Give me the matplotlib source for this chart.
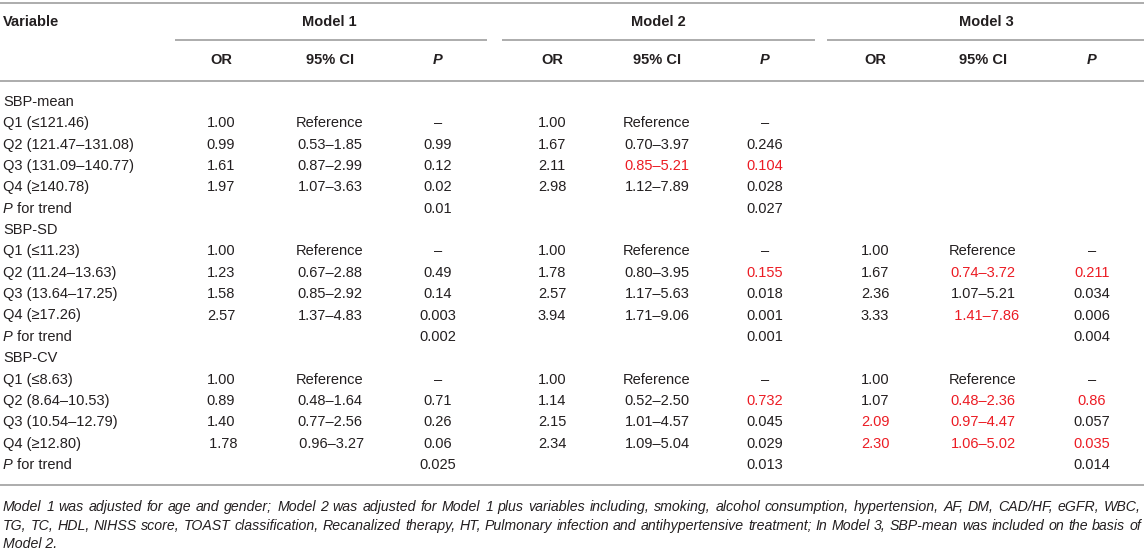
import matplotlib
matplotlib.use('Agg')
import matplotlib.pyplot as plt
from matplotlib import font_manager as fm

plt.rcParams['font.family'] = ['Liberation Sans', 'DejaVu Sans']

# table content
row_labels = ["SBP-mean", "Q1 (≤121.46)", "Q2 (121.47–131.08)", "Q3 (131.09–140.77)",
              "Q4 (≥140.78)", "P for trend",
              "SBP-SD", "Q1 (≤11.23)", "Q2 (11.24–13.63)", "Q3 (13.64–17.25)",
              "Q4 (≥17.26)", "P for trend",
              "SBP-CV", "Q1 (≤8.63)", "Q2 (8.64–10.53)", "Q3 (10.54–12.79)",
              "Q4 (≥12.80)", "P for trend"]

models = ["Model 1", "Model 2", "Model 3"]
sub_headers = ["OR", "95% CI", "P"]

m1_or = ["", "1.00", "0.99", "1.61", "1.97", "", "", "1.00", "1.23", "1.58", "2.57", "",
         "", "1.00", "0.89", "1.40", " 1.78", ""]
m1_ci = ["", "Reference", "0.53–1.85", "0.87–2.99", "1.07–3.63", "", "", "Reference",
         "0.67–2.88", "0.85–2.92", "1.37–4.83", "", "", "Reference", "0.48–1.64",
         "0.77–2.56", " 0.96–3.27", ""]
m1_p = ["", "–", "0.99", "0.12", "0.02", "0.01", "", "–", "0.49", "0.14", "0.003", "0.002",
        "", "–", "0.71", "0.26", "0.06", "0.025"]

m2_or = ["", "1.00", "1.67", "2.11", "2.98", "", "", "1.00", "1.78", "2.57", "3.94", "",
         "", "1.00", "1.14", "2.15", "2.34", ""]
m2_ci = ["", "Reference", "0.70–3.97", "0.85–5.21", "1.12–7.89", "", "", "Reference",
         "0.80–3.95", "1.17–5.63", "1.71–9.06", "", "", "Reference", "0.52–2.50",
         "1.01–4.57", "1.09–5.04", ""]
m2_p = ["", "–", "0.246", "0.104", "0.028", "0.027", "", "–", "0.155", "0.018", "0.001",
        "0.001", "", "–", "0.732", "0.045", "0.029", "0.013"]

m3_or = ["", "", "", "", "", "", "", "1.00", "1.67", "2.36", "3.33", "",
         "", "1.00", "1.07", "2.09", "2.30", ""]
m3_ci = ["", "", "", "", "", "", "", "Reference", "0.74–3.72", "1.07–5.21", "  1.41–7.86", "",
         "", "Reference", "0.48–2.36", "0.97–4.47", "1.06–5.02", ""]
m3_p = ["", "", "", "", "", "", "", "–", "0.211", "0.034", "0.006", "0.004",
        "", "–", "0.86", "0.057", "0.035", "0.014"]

# row indices printed in red, per model and column
red_cells = {
    (1, 1): [3], (1, 2): [3, 8, 14],
    (2, 0): [15, 16], (2, 1): [8, 10, 14, 15, 16], (2, 2): [8, 14, 16],
}

footnote = [
    "Model 1 was adjusted for age and gender; Model 2 was adjusted for Model 1 plus variables "
    "including, smoking, alcohol consumption, hypertension, AF, DM, CAD/HF, eGFR, WBC,",
    "TG, TC, HDL, NIHSS score, TOAST classification, Recanalized therapy, HT, Pulmonary "
    "infection and antihypertensive treatment; In Model 3, SBP-mean was included on the basis of",
    "Model 2.",
]

table = [[m1_or, m1_ci, m1_p], [m2_or, m2_ci, m2_p], [m3_or, m3_ci, m3_p]]


def pick_font(weight):
    # an italic face of normal width (avoid the Narrow/Condensed cuts)
    for fam in ['Liberation Sans', 'Arimo', 'Roboto', 'Noto Sans', 'Open Sans', 'DejaVu Sans']:
        for f in fm.fontManager.ttflist:
            low = f.fname.lower()
            if f.name != fam or 'narrow' in low or 'condensed' in low:
                continue
            if f.style in ('italic', 'oblique') and f.weight == weight:
                return f.fname
    return None


it_file = pick_font(400)
bi_file = pick_font(700)

W, H = 1144, 551
txt = '#231f20'
red = '#ec1c24'
rule = '#a6a6a6'
fs = 10.5


def italic(size, bold=False):
    fname = bi_file if bold else it_file
    if fname:
        return fm.FontProperties(fname=fname, size=size)
    return fm.FontProperties(family='DejaVu Sans', style='italic',
                             weight='bold' if bold else 'normal', size=size)


fig = plt.figure(figsize=(W / 100, H / 100), dpi=100)
ax = fig.add_axes([0, 0, 1, 1])
ax.set_xlim(0, W)
ax.set_ylim(H, 0)
ax.axis('off')

col_x = [[221, 330, 438], [552, 657, 765], [875, 983, 1092]]
model_x = [329, 658, 986]
model_rule = [(175, 487), (502, 815), (827, W)]
left = 3
y_head1, y_head2 = 22, 60
y0, dy = 102, 21.35

# rules
ax.hlines([3, 81, 485], 0, W, colors=rule, lw=1.3)
for a, b in model_rule:
    ax.hlines(39.5, a, b, colors=rule, lw=1.3)

# headers
ax.text(left, y_head1, "Variable", fontsize=fs, fontweight='bold', color=txt,
        ha='left', va='center')
for i, m in enumerate(models):
    ax.text(model_x[i], y_head1, m, fontsize=fs, fontweight='bold', color=txt,
            ha='center', va='center')
    for j, s in enumerate(sub_headers):
        if s == "P":
            ax.text(col_x[i][j], y_head2, s, fontproperties=italic(fs, bold=True),
                    color=txt, ha='center', va='center')
        else:
            ax.text(col_x[i][j], y_head2, s, fontsize=fs, fontweight='bold', color=txt,
                    ha='center', va='center')

# row labels
for r, lab in enumerate(row_labels):
    y = y0 + r * dy
    if lab.startswith("P for"):
        p = ax.text(left, y, "P", fontproperties=italic(fs), color=txt,
                    ha='left', va='center')
        ax.annotate(" for trend", xy=(1, 0.5), xycoords=p, fontsize=fs, color=txt,
                    ha='left', va='center')
    else:
        ax.text(left, y, lab, fontsize=fs, color=txt, ha='left', va='center')

# cells
for i in range(3):
    for j in range(3):
        reds = red_cells.get((i, j), [])
        for r, val in enumerate(table[i][j]):
            if not val:
                continue
            ax.text(col_x[i][j], y0 + r * dy, val, fontsize=fs,
                    color=red if r in reds else txt, ha='center', va='center')

# justified footnote
fig.canvas.draw()
rend = fig.canvas.get_renderer()


def text_width(s, size):
    t = ax.text(0, 0, s, fontproperties=italic(size))
    bb = t.get_window_extent(rend)
    t.remove()
    return bb.width


right = 1141
note_base = [511, 530, 548]   # baselines

# scale the footnote so the longer full line just fills the column width
base = 10.0
fs_note = min(base * (right - left) / text_width(line, base) for line in footnote[:2])

for k, line in enumerate(footnote):
    if k == len(footnote) - 1:
        ax.text(left, note_base[k], line, fontproperties=italic(fs_note), color=txt,
                ha='left', va='baseline')
        continue
    words = line.split(' ')
    widths = [text_width(w, fs_note) for w in words]
    gap = (right - left - sum(widths)) / (len(words) - 1)
    x = left
    for w, wd in zip(words, widths):
        ax.text(x, note_base[k], w, fontproperties=italic(fs_note), color=txt,
                ha='left', va='baseline')
        x += wd + gap

fig.savefig('out.png', dpi=100)
